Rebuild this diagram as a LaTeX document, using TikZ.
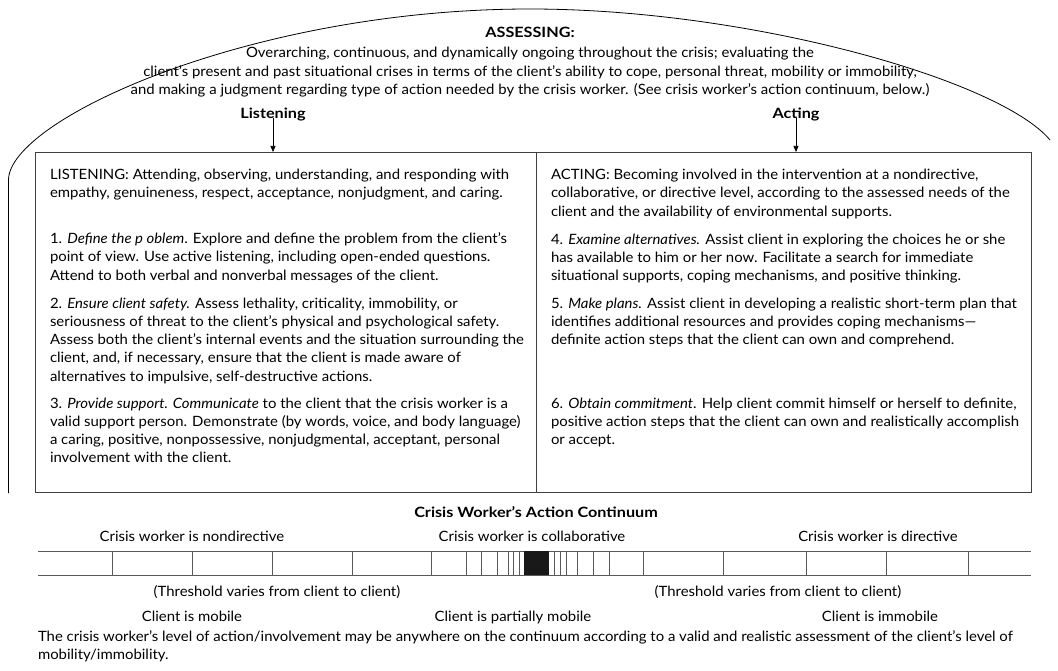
\documentclass[tikz,border=0pt]{standalone}
\usepackage{fontspec}
\setmainfont{Lato}[FakeStretch=1.05, BoldFeatures={FakeStretch=1.14}]
\usetikzlibrary{arrows.meta}
\newcommand\bodysize{\fontsize{14.2pt}{18.3pt}\selectfont}
\begin{document}
\begin{tikzpicture}[x=1pt,y=-1pt,
  para/.style={inner sep=0pt, outer sep=0pt, align=left, anchor=north west, font=\bodysize},
  cwtext/.style={inner sep=0pt, outer sep=0pt, anchor=base, font=\bodysize},
  cwhead/.style={cwtext, font=\bodysize\bfseries},
  frameline/.style={draw=black!75, line width=0.9pt},
  arcline/.style={draw=black, line width=0.8pt},
  barline/.style={draw=black!65, line width=1pt},
  arr/.style={-{Triangle[length=6pt,width=5pt]}, line width=0.7pt}]
\useasboundingbox (0,0) rectangle (1058,671);

% outer assessing arc
\draw[arcline] (8.5,493) -- (8.5,180) .. controls (8.5,120) and (250,9) .. (530,9)
  .. controls (750,9) and (1000,80) .. (1050,140);

% assessing text
\node[inner sep=0pt, outer sep=0pt, anchor=north, align=center, font=\bodysize] (assess) at (530,24.7)
  {\strut\textbf{ASSESSING:}\\[2pt]
   Overarching, continuous, and dynamically ongoing throughout the crisis; evaluating the\\
   client's present and past situational crises in terms of the client's ability to cope, personal threat, mobility or immobility,\\
   and making a judgment regarding type of action needed by the crisis worker. (See crisis worker's action continuum, below.)};

% main two-column box
\draw[frameline] (35,152) rectangle (1031,492);
\draw[frameline] (536,152) -- (536,492);
\coordinate (lisIn) at (273,152);
\coordinate (actIn) at (796,152);

\node[cwhead] (lis) at (273,118.5) {Listening};
\node[cwhead] (act) at (796,118.5) {Acting};
\draw[arr] ([yshift=3pt]lis.south) -- (lisIn);
\draw[arr] ([yshift=3pt]act.south) -- (actIn);

% listening column
\node[para] (l0) at (50,166.7) {\strut LISTENING: Attending, observing, understanding, and responding with\\
  empathy, genuineness, respect, acceptance, nonjudgment, and caring.};
\node[para] (l1) at (50,230.7) {\strut 1. \textit{Define the p oblem}. Explore and define the problem from the client's\\
  point of view. Use active listening, including open-ended questions.\\
  Attend to both verbal and nonverbal messages of the client.};
\node[para] (l2) at (50,295.2) {\strut 2. \textit{Ensure client safety.} Assess lethality, criticality, immobility, or\\
  seriousness of threat to the client's physical and psychological safety.\\
  Assess both the client's internal events and the situation surrounding the\\
  client, and, if necessary, ensure that the client is made aware of\\
  alternatives to impulsive, self-destructive actions.};
\node[para] (l3) at (50,395.2) {\strut 3. \textit{Provide support. Communicate} to the client that the crisis worker is a\\
  valid support person. Demonstrate (by words, voice, and body language)\\
  a caring, positive, nonpossessive, nonjudgmental, acceptant, personal\\
  involvement with the client.};

% acting column
\node[para] (r0) at (551,166.7) {\strut ACTING: Becoming involved in the intervention at a nondirective,\\
  collaborative, or directive level, according to the assessed needs of the\\
  client and the availability of environmental supports.};
\node[para] (r1) at (551,231.5) {\strut 4. \textit{Examine alternatives.} Assist client in exploring the choices he or she\\
  has available to him or her now. Facilitate a search for immediate\\
  situational supports, coping mechanisms, and positive thinking.};
\node[para] (r2) at (551,295.5) {\strut 5. \textit{Make plans.} Assist client in developing a realistic short-term plan that\\
  identifies additional resources and provides coping mechanisms---\\
  definite action steps that the client can own and comprehend.};
\node[para] (r3) at (551,395.5) {\strut 6. \textit{Obtain commitment}. Help client commit himself or herself to definite,\\
  positive action steps that the client can own and realistically accomplish\\
  or accept.};

% action continuum
\node[cwhead] (ctitle) at (536,517.5) {Crisis Worker's Action Continuum};
\node[cwtext] (nondir) at (192,541.2) {Crisis worker is nondirective};
\node[cwtext] (collab) at (532,541.2) {Crisis worker is collaborative};
\node[cwtext] (dir) at (878,541.2) {Crisis worker is directive};

\draw[barline] (38,551) -- (1031,551);
\draw[barline] (38,575) -- (1031,575);
\foreach \x in {112,192,272,352,431,466,481,497,508,513,519,554,560,566,577,593,609,643,723,806,886,968}
  \draw[barline] (\x,551) -- (\x,575);
\fill[black!90] (524,551) rectangle (549,575);

\node[cwtext] (thl) at (277,596.5) {(Threshold varies from client to client)};
\node[cwtext] (thr) at (778,596.5) {(Threshold varies from client to client)};
\node[cwtext] (mob) at (192,621.5) {Client is mobile};
\node[cwtext] (pmob) at (513,621.5) {Client is partially mobile};
\node[cwtext] (imob) at (880,621.5) {Client is immobile};

\node[para] (foot) at (38,628.7) {\strut The crisis worker's level of action/involvement may be anywhere on the continuum according to a valid and realistic assessment of the client's level of\\
  mobility/immobility.};
\end{tikzpicture}
\end{document}
